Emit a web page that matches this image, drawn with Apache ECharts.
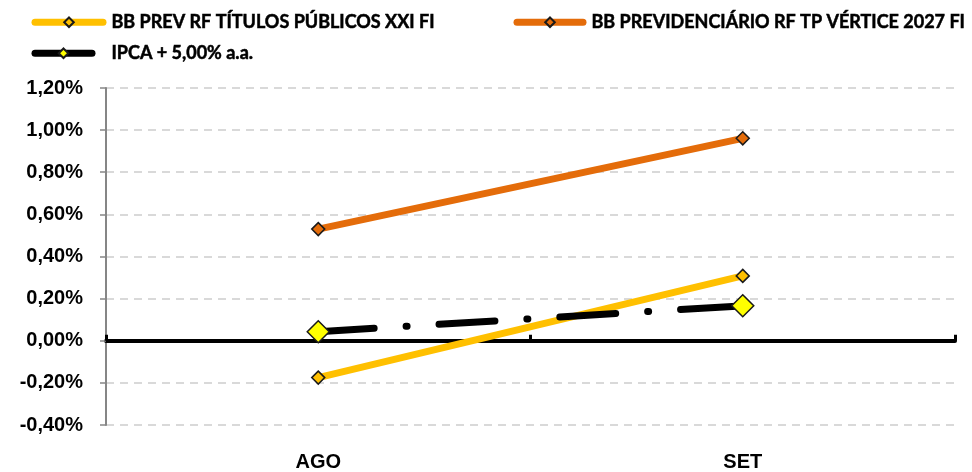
<!DOCTYPE html>
<html><head><meta charset="utf-8">
<script src="https://cdn.jsdelivr.net/npm/echarts@6/dist/echarts.min.js"></script>
<style>html,body{margin:0;padding:0;background:#fff}#c{width:972px;height:472px}</style>
</head><body><div id="c"></div>
<script>
var categories = ['AGO', 'SET'];
var seriesNames = ['BB PREV RF TÍTULOS PÚBLICOS XXI FI', 'BB PREVIDENCIÁRIO RF TP VÉRTICE 2027 FI', 'IPCA + 5,00% a.a.'];
var prevXXI = [-0.175, 0.308];
var vertice2027 = [0.530, 0.961];
var ipca = [0.043, 0.166];
var yTicks = [-0.4, -0.2, 0, 0.2, 0.4, 0.6, 0.8, 1.0, 1.2];

var FONT = 'Lato';
var AXFONT = 'Liberation Sans';
var chart = echarts.init(document.getElementById('c'));
function legendAt(name, left, top, w, pad) {
  return {
    data: [name], left: left, top: top, itemWidth: w, itemHeight: 12, itemGap: 0,
    lineStyle: {width: 7, type: 'solid', cap: 'round'},
    textStyle: {fontFamily: FONT, fontWeight: 'bold', fontSize: 18, color: '#000',
      padding: [0, 0, 0, pad], textBorderColor: '#000', textBorderWidth: 0.5},
    selectedMode: false, padding: 0
  };
}
chart.setOption({
  animation: false,
  legend: [
    legendAt(seriesNames[0], 31.5, 13, 68, 3.5),
    legendAt(seriesNames[1], 513.5, 13, 66, 3.5),
    legendAt(seriesNames[2], 31.5, 44, 57, 14.5)
  ],
  grid: {left: 106, right: 17, top: 88, bottom: 46},
  xAxis: [{
    type: 'category', data: categories, boundaryGap: true,
    axisLine: {show: false, onZero: false}, axisTick: {show: false},
    axisLabel: {fontFamily: AXFONT, fontWeight: 'bold', fontSize: 20, color: '#000', margin: 27}
  }, {
    type: 'category', data: categories, boundaryGap: true,
    axisLine: {show: true, onZero: true, lineStyle: {color: '#000', width: 4}},
    axisTick: {show: true, length: 6, lineStyle: {color: '#000', width: 3}},
    axisLabel: {show: false}
  }],
  yAxis: {
    type: 'value', min: -0.4, max: 1.2, interval: 0.2,
    axisLine: {show: true, lineStyle: {color: '#868686', width: 2}},
    axisTick: {show: true, length: 6, lineStyle: {color: '#868686', width: 1.5}},
    splitLine: {show: true, lineStyle: {color: '#d9d9d9', width: 2, type: [8, 6]}},
    axisLabel: {fontFamily: AXFONT, fontWeight: 'bold', fontSize: 20, color: '#000', margin: 23,
      formatter: function (v) { return v.toFixed(2).replace('.', ',') + '%'; }}
  },
  series: [{
    name: seriesNames[0], type: 'line', data: prevXXI, xAxisIndex: 0,
    symbol: 'diamond', symbolSize: 13,
    lineStyle: {color: '#FFC000', width: 7},
    itemStyle: {color: '#FFC000', borderColor: '#1a1a1a', borderWidth: 1.5}, z: 3
  }, {
    name: seriesNames[1], type: 'line', data: vertice2027, xAxisIndex: 0,
    symbol: 'diamond', symbolSize: 13,
    lineStyle: {color: '#E46C0A', width: 7},
    itemStyle: {color: '#E46C0A', borderColor: '#1a1a1a', borderWidth: 1.5}, z: 3
  }, {
    name: seriesNames[2], type: 'line', data: ipca, xAxisIndex: 0,
    symbol: 'diamond', symbolSize: 22,
    lineStyle: {color: '#000', width: 7, type: [56, 32, 1, 32], cap: 'round'},
    itemStyle: {color: '#FFFF00', borderColor: '#1a1a1a', borderWidth: 1.5}, z: 4
  }]
});
</script></body></html>
